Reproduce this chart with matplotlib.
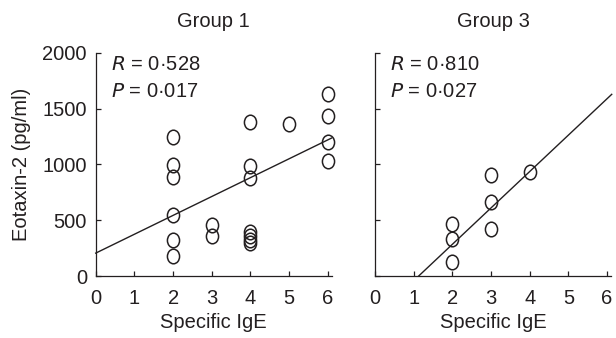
import matplotlib

matplotlib.use("Agg")
import matplotlib.pyplot as plt
import numpy as np
from matplotlib.path import Path
from matplotlib.transforms import Affine2D

plt.rcParams["font.family"] = ["Liberation Sans", "DejaVu Sans"]

INK = "#231f20"
FS = 14.5

# Group 1 points (specific IgE, eotaxin-2 pg/ml)
G1_X = [2, 2, 2, 2, 2, 2, 3, 3, 4, 4, 4, 4, 4, 4, 4, 5, 6, 6, 6, 6]
G1_Y = [1241, 993, 891, 544, 323, 179, 457, 359,
        1381, 987, 882, 390, 355, 325, 300, 1357, 1630, 1429, 1196, 1032]
G1_FIT = (205, 169)        # intercept, slope
G1_FIT_X = [0, 6.1]

# Group 3 points
G3_X = [2, 2, 2, 3, 3, 3, 4]
G3_Y = [466, 329, 128, 905, 666, 421, 929]
G3_FIT = (-368, 326)
G3_FIT_X = [1.13, 6.12]

STATS = {"Group 1": ("0·528", "0·017"), "Group 3": ("0·810", "0·027")}

X_TICKS = [0, 1, 2, 3, 4, 5, 6]
Y_TICKS = [0, 500, 1000, 1500, 2000]

# taller-than-wide open circle, as in the original figure
ELLIPSE = Path.unit_circle().transformed(Affine2D().scale(1.0, 1.2))


def draw_panel(ax, xs, ys, fit, fit_x, title, show_ylabels):
    a, b = fit
    fx = np.array(fit_x)
    ax.plot(fx, a + b * fx, color=INK, lw=1.0, clip_on=False)
    ax.plot(xs, ys, ls="none", marker=ELLIPSE, ms=10.5, mfc="none",
            mec=INK, mew=1.1, clip_on=False)
    ax.set_xlim(0, 6.1)
    ax.set_ylim(0, 2000)
    ax.set_xticks(X_TICKS)
    ax.set_yticks(Y_TICKS)
    if not show_ylabels:
        ax.set_yticklabels([])
    for s in ("top", "right"):
        ax.spines[s].set_visible(False)
    for s in ("left", "bottom"):
        ax.spines[s].set_linewidth(0.9)
        ax.spines[s].set_color(INK)
    ax.tick_params(direction="in", length=3.5, width=0.9, colors=INK,
                   labelsize=FS, labelcolor=INK)
    ax.tick_params(axis="x", pad=9)
    ax.tick_params(axis="y", pad=6.3)
    ax.set_xlabel("Specific IgE", fontsize=FS, color=INK, labelpad=4)
    ax.set_title(title, fontsize=FS, color=INK, pad=18.5)
    r, p = STATS[title]
    ax.text(0.0636, 0.922, f"$\\it{{R}}$ = {r}", transform=ax.transAxes,
            fontsize=FS, color=INK, va="baseline")
    ax.text(0.0636, 0.803, f"$\\it{{P}}$ = {p}", transform=ax.transAxes,
            fontsize=FS, color=INK, va="baseline")


fig = plt.figure(figsize=(6.16, 3.38), dpi=100)
ax1 = fig.add_axes([0.1554, 0.1834, 0.383, 0.6607])
ax2 = fig.add_axes([0.6088, 0.1834, 0.383, 0.6607])

draw_panel(ax1, G1_X, G1_Y, G1_FIT, G1_FIT_X, "Group 1", True)
draw_panel(ax2, G3_X, G3_Y, G3_FIT, G3_FIT_X, "Group 3", False)
ax1.set_ylabel("Eotaxin-2 (pg/ml)", fontsize=FS, color=INK, labelpad=8)

fig.savefig("out.png", dpi=100)
